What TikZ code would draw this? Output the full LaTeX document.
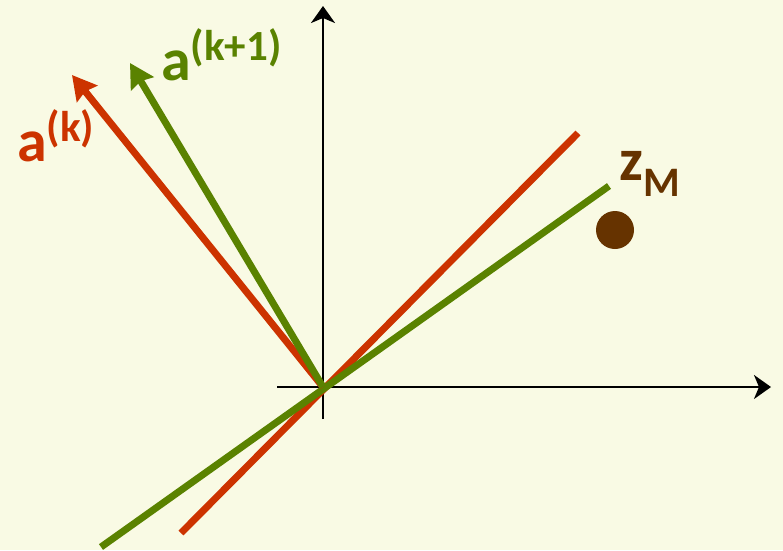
\documentclass[tikz,border=0pt]{standalone}
\usepackage{fontspec}
\setmainfont{Carlito}
\usetikzlibrary{arrows.meta}
\definecolor{bgc}{RGB}{249,250,228}
\definecolor{redc}{RGB}{204,51,0}
\definecolor{greenc}{RGB}{90,130,0}
\definecolor{brownc}{RGB}{102,51,0}
\newcommand{\bigtxt}[1]{{\fontsize{60}{62}\selectfont\bfseries #1}}
\newcommand{\suptxt}[1]{\raisebox{20pt}{\fontsize{43}{45}\selectfont\bfseries #1}}
\newcommand{\subtxt}[1]{\raisebox{-16pt}{\fontsize{42}{44}\selectfont\bfseries #1}}
\tikzset{
  axis/.style={line width=2.6pt, -{Stealth[length=17pt,width=24pt,inset=5pt]}},
  vec/.style={line width=7pt, -{Stealth[length=24pt,width=26pt,inset=3pt]}},
  ln/.style={line width=7pt},
  lbl/.style={inner sep=0pt, anchor=base west}
}
\begin{document}
\begin{tikzpicture}[x=1pt,y=-1pt]
\fill[bgc] (0,0) rectangle (783,550);
\useasboundingbox (0,0) rectangle (783,550);
\coordinate (O) at (323,387);
\coordinate (xl) at (277,387);
\coordinate (xr) at (771,387);
\coordinate (yb) at (323,419);
\coordinate (yt) at (323,6);
\draw[axis] (xl) -- (xr);
\draw[axis] (yb) -- (yt);
% lines
\coordinate (r1) at (181,533);
\coordinate (r2) at (578,133);
\coordinate (g1) at (101,547);
\coordinate (g2) at (609,186);
\draw[ln, redc] (r1) -- (r2);
\draw[ln, greenc] (g1) -- (g2);
% vectors
\coordinate (ak) at (72,75);
\coordinate (ak1) at (130,63);
\draw[vec, redc] (O) -- (ak);
\draw[vec, greenc] (O) -- (ak1);
% dot
\node[circle, fill=brownc, minimum size=38pt, inner sep=0pt] (zm) at (615,230) {};
% labels
\node[lbl, text=redc] (lak) at (17,161) {\bigtxt{a}\suptxt{(k)}};
\node[lbl, text=greenc] (lak1) at (161,80) {\bigtxt{a}\suptxt{(k+1)}};
\node[lbl, text=brownc] (lzm) at (619,180) {\bigtxt{z}\subtxt{M}};
\end{tikzpicture}
\end{document}
